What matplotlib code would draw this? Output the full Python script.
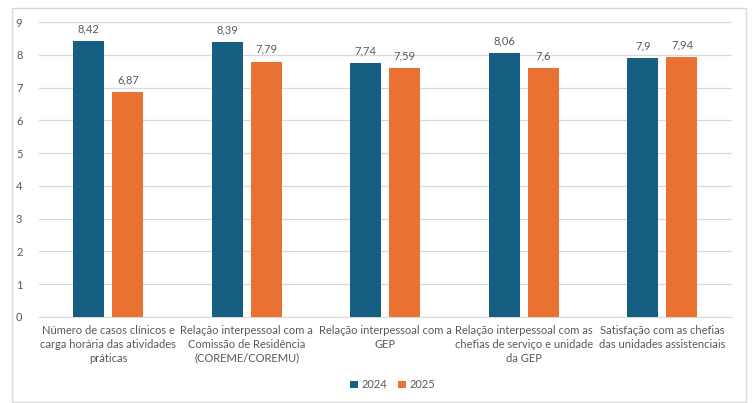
import matplotlib.pyplot as plt
import numpy as np
from matplotlib.patches import Rectangle

categories = [
    "Número de casos clínicos e\ncarga horária das atividades\npráticas",
    "Relação interpessoal com a\nComissão de Residência\n(COREME/COREMU)",
    "Relação interpessoal com a\nGEP",
    "Relação interpessoal com as\nchefias de serviço e unidade\nda GEP",
    "Satisfação com as chefias\ndas unidades assistenciais",
]
vals_2024 = [8.42, 8.39, 7.74, 8.06, 7.9]
vals_2025 = [6.87, 7.79, 7.59, 7.6, 7.94]
series_names = ["2024", "2025"]

plt.rcParams['font.family'] = ['Lato', 'DejaVu Sans']
text_col = "#595959"

fig = plt.figure(figsize=(7.52, 4.03), dpi=100)
ax = fig.add_axes([0.052, 0.2134, 0.921, 0.7316])

x = np.arange(len(categories))
w = 0.224
off = 0.141
b1 = ax.bar(x - off, vals_2024, w, color="#156082", label=series_names[0], zorder=3)
b2 = ax.bar(x + off, vals_2025, w, color="#E97132", label=series_names[1], zorder=3)

def fmt(v):
  s = ("%.2f" % v).rstrip("0").rstrip(".")
  return s.replace(".", ",")

for bars, vals in [(b1, vals_2024), (b2, vals_2025)]:
  ax.bar_label(bars, labels=[fmt(v) for v in vals], padding=5, fontsize=8, color=text_col)

ax.set_xlim(-0.5, len(categories) - 0.5)
ax.set_ylim(0, 9)
ax.set_yticks(range(0, 10))
ax.set_xticks(x)
ax.set_xticklabels(categories, fontsize=8, color=text_col, linespacing=1.3)
ax.tick_params(axis='y', labelsize=8, labelcolor=text_col, length=0, pad=12)
ax.tick_params(axis='x', length=0, pad=6)
ax.yaxis.grid(True, color="#d9d9d9", linewidth=0.9, zorder=0)
for s in ["top", "right", "left"]:
  ax.spines[s].set_visible(False)
ax.spines["bottom"].set_color("#d9d9d9")

fig.legend(handles=[b1, b2], loc="center", bbox_to_anchor=(0.522, 0.045), ncol=2,
           frameon=False, fontsize=8, labelcolor=text_col, handlelength=0.7,
           handleheight=0.7, handletextpad=0.3, columnspacing=1.0)

fig.patches.append(Rectangle((12 / 752, 1 / 403), 734 / 752, 394 / 403, transform=fig.transFigure,
                             fill=False, edgecolor="#d9d9d9", linewidth=1.0))

fig.savefig("out.png", dpi=100)
